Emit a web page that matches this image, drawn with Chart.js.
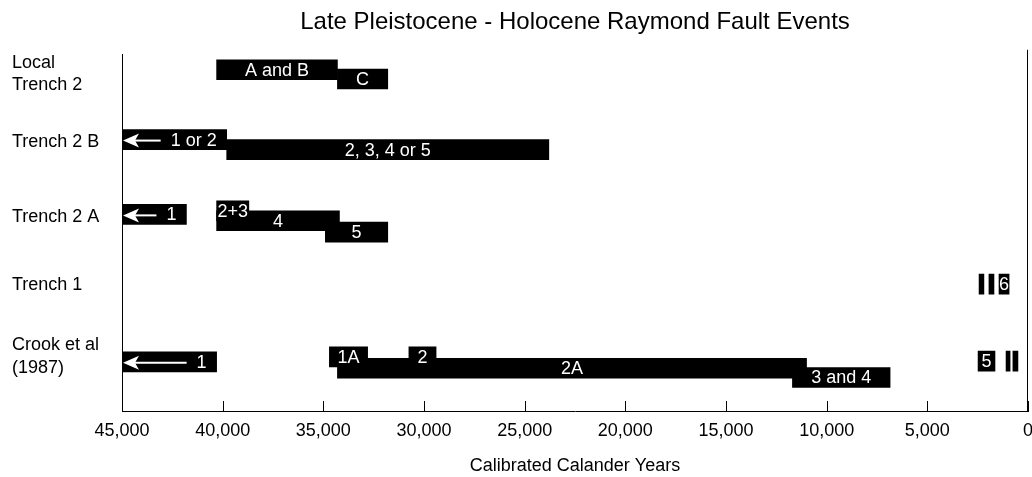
<!DOCTYPE html>
<html>
<head>
<meta charset="utf-8">
<title>Late Pleistocene - Holocene Raymond Fault Events</title>
<script src="https://cdn.jsdelivr.net/npm/chart.js@4.4.1/dist/chart.umd.min.js"></script>
<style>
  html, body { margin: 0; padding: 0; background: #fff; }
  #wrap { width: 1032px; height: 477px; position: relative; }
</style>
</head>
<body>
<div id="wrap"><canvas id="faultChart"></canvas></div>
<script>
// Rows (site / trench) and where their labels sit on the vertical scale
const rowNames = [['Local', 'Trench 2'], 'Trench 2 B', 'Trench 2 A', 'Trench 1', ['Crook et al', '(1987)']];
const rowLevels = [4.73, 3.78, 2.72, 1.77, 0.765];

// Events: label, older bound, younger bound (calibrated years), vertical level
const eventNames   = ['A and B', 'C', '1 or 2', '2, 3, 4 or 5', '1', '2+3', '4', '5', '', '', '6', '1', '1A', '2', '2A', '3 and 4', '5', '', ''];
const eventOlder   = [40300, 34300, 45000, 39800, 45000, 40300, 40300, 34900, 2430, 1940, 1440, 45000, 34700, 30750, 34300, 11700, 2480, 1090, 750];
const eventYounger = [34300, 31800, 39800, 23800, 41800, 38700, 34200, 31800, 2190, 1690, 940, 40300, 32800, 29400, 11000, 6850, 1640, 890, 500];
const eventLevels  = [4.79, 4.66, 3.81, 3.67, 2.76, 2.81, 2.67, 2.51, 1.78, 1.78, 1.78, 0.69, 0.76, 0.76, 0.60, 0.47, 0.70, 0.70, 0.70];
// true where the event is older than the axis (drawn with a left arrow)
const openEnded    = [false, false, true, false, true, false, false, false, false, false, false, true, false, false, false, false, false, false, false];

// x axis ticks
const yearMin = 0;
const yearMax = 45000;
const yearStep = 5000;

const FONT = '"Liberation Sans", Arial, Helvetica, sans-serif';
Chart.defaults.font.family = FONT;
Chart.defaults.color = '#000';

// white text (and arrows) inside the bars
const barText = {
  id: 'barText',
  afterDatasetsDraw(chart) {
    const ctx = chart.ctx;
    const meta = chart.getDatasetMeta(0);
    ctx.save();
    ctx.fillStyle = '#fff';
    ctx.strokeStyle = '#fff';
    ctx.font = '18px ' + FONT;
    ctx.textBaseline = 'middle';
    meta.data.forEach((bar, i) => {
      const name = eventNames[i];
      if (!name) return;
      const left = Math.min(bar.x, bar.base);
      const right = Math.max(bar.x, bar.base);
      const y = bar.y + 1;
      if (openEnded[i]) {
        ctx.textAlign = 'right';
        ctx.fillText(name, right - 10, y);
        const tx = right - 10 - ctx.measureText(name).width - 10;
        ctx.lineWidth = 2;
        ctx.beginPath();
        ctx.moveTo(left + 10, y);
        ctx.lineTo(tx, y);
        ctx.stroke();
        ctx.beginPath();
        ctx.moveTo(left + 1, y);
        ctx.lineTo(left + 17, y - 7);
        ctx.lineTo(left + 13, y);
        ctx.lineTo(left + 17, y + 7);
        ctx.closePath();
        ctx.fill();
      } else {
        ctx.textAlign = 'center';
        ctx.fillText(name, (left + right) / 2, y);
      }
    });
    ctx.restore();
  }
};

// tick marks pointing up into the plot from the year axis, plus the right frame line
const innerTicks = {
  id: 'innerTicks',
  afterDraw(chart) {
    const sx = chart.scales.x;
    const ctx = chart.ctx;
    const area = chart.chartArea;
    ctx.save();
    ctx.strokeStyle = '#000';
    ctx.lineWidth = 1;
    sx.ticks.forEach(t => {
      const px = Math.round(sx.getPixelForValue(t.value)) + 0.5;
      ctx.beginPath();
      ctx.moveTo(px, area.bottom);
      ctx.lineTo(px, area.bottom - 10);
      ctx.stroke();
    });
    const rx = Math.round(sx.getPixelForValue(yearMin)) - 0.5;
    ctx.beginPath();
    ctx.moveTo(rx, area.top - 5);
    ctx.lineTo(rx, area.bottom + 0.5);
    ctx.stroke();
    ctx.restore();
  }
};

const bars = eventNames.map((n, i) => ({ x: [eventOlder[i], eventYounger[i]], y: eventLevels[i] }));

new Chart(document.getElementById('faultChart'), {
  type: 'bar',
  data: {
    datasets: [{
      data: bars,
      backgroundColor: '#000',
      borderWidth: 0,
      borderSkipped: false,
      barThickness: 20,
      xAxisID: 'x',
      yAxisID: 'y'
    }]
  },
  options: {
    indexAxis: 'y',
    responsive: true,
    maintainAspectRatio: false,
    animation: false,
    layout: { padding: { left: 12, right: 4, top: 0, bottom: 0 } },
    plugins: {
      legend: { display: false },
      tooltip: { enabled: false },
      title: { display: false }
    },
    scales: {
      x: {
        type: 'linear',
        position: 'bottom',
        reverse: true,
        offset: false,
        min: yearMin,
        max: yearMax,
        afterFit: s => { s.height = 66; s.paddingLeft = 0; s.paddingRight = 0; },
        ticks: {
          stepSize: yearStep,
          autoSkip: false,
          maxRotation: 0,
          padding: 9,
          font: { size: 18 },
          callback: v => Number(v).toLocaleString('en-US')
        },
        grid: { display: false, drawTicks: false },
        border: { display: true, color: '#000', width: 1 },
        title: { display: true, text: 'Calibrated Calander Years', font: { size: 18 }, padding: { top: 0, bottom: 0 } }
      },
      x2: {
        type: 'linear',
        axis: 'x',
        position: 'top',
        offset: false,
        min: yearMin,
        max: yearMax,
        afterFit: s => { s.paddingLeft = 0; s.paddingRight = 0; },
        ticks: { display: false },
        grid: { display: false, drawTicks: false },
        border: { display: false },
        title: {
          display: true,
          text: 'Late Pleistocene - Holocene Raymond Fault Events',
          font: { size: 24 },
          padding: { top: 8, bottom: 18 }
        }
      },
      y: {
        type: 'linear',
        position: 'left',
        offset: false,
        min: 0,
        max: 5,
        afterBuildTicks: s => { s.ticks = rowLevels.map(v => ({ value: v })); },
        afterFit: s => { s.width = 110; s.paddingTop = 0; s.paddingBottom = 0; },
        ticks: {
          autoSkip: false,
          crossAlign: 'far',
          font: { size: 18, lineHeight: 1.25 },
          callback: (v, i) => rowNames[i]
        },
        grid: { display: false, drawTicks: false, offset: false },
        border: { display: true, color: '#000', width: 1 }
      }
    }
  },
  plugins: [barText, innerTicks]
});
</script>
</body>
</html>
